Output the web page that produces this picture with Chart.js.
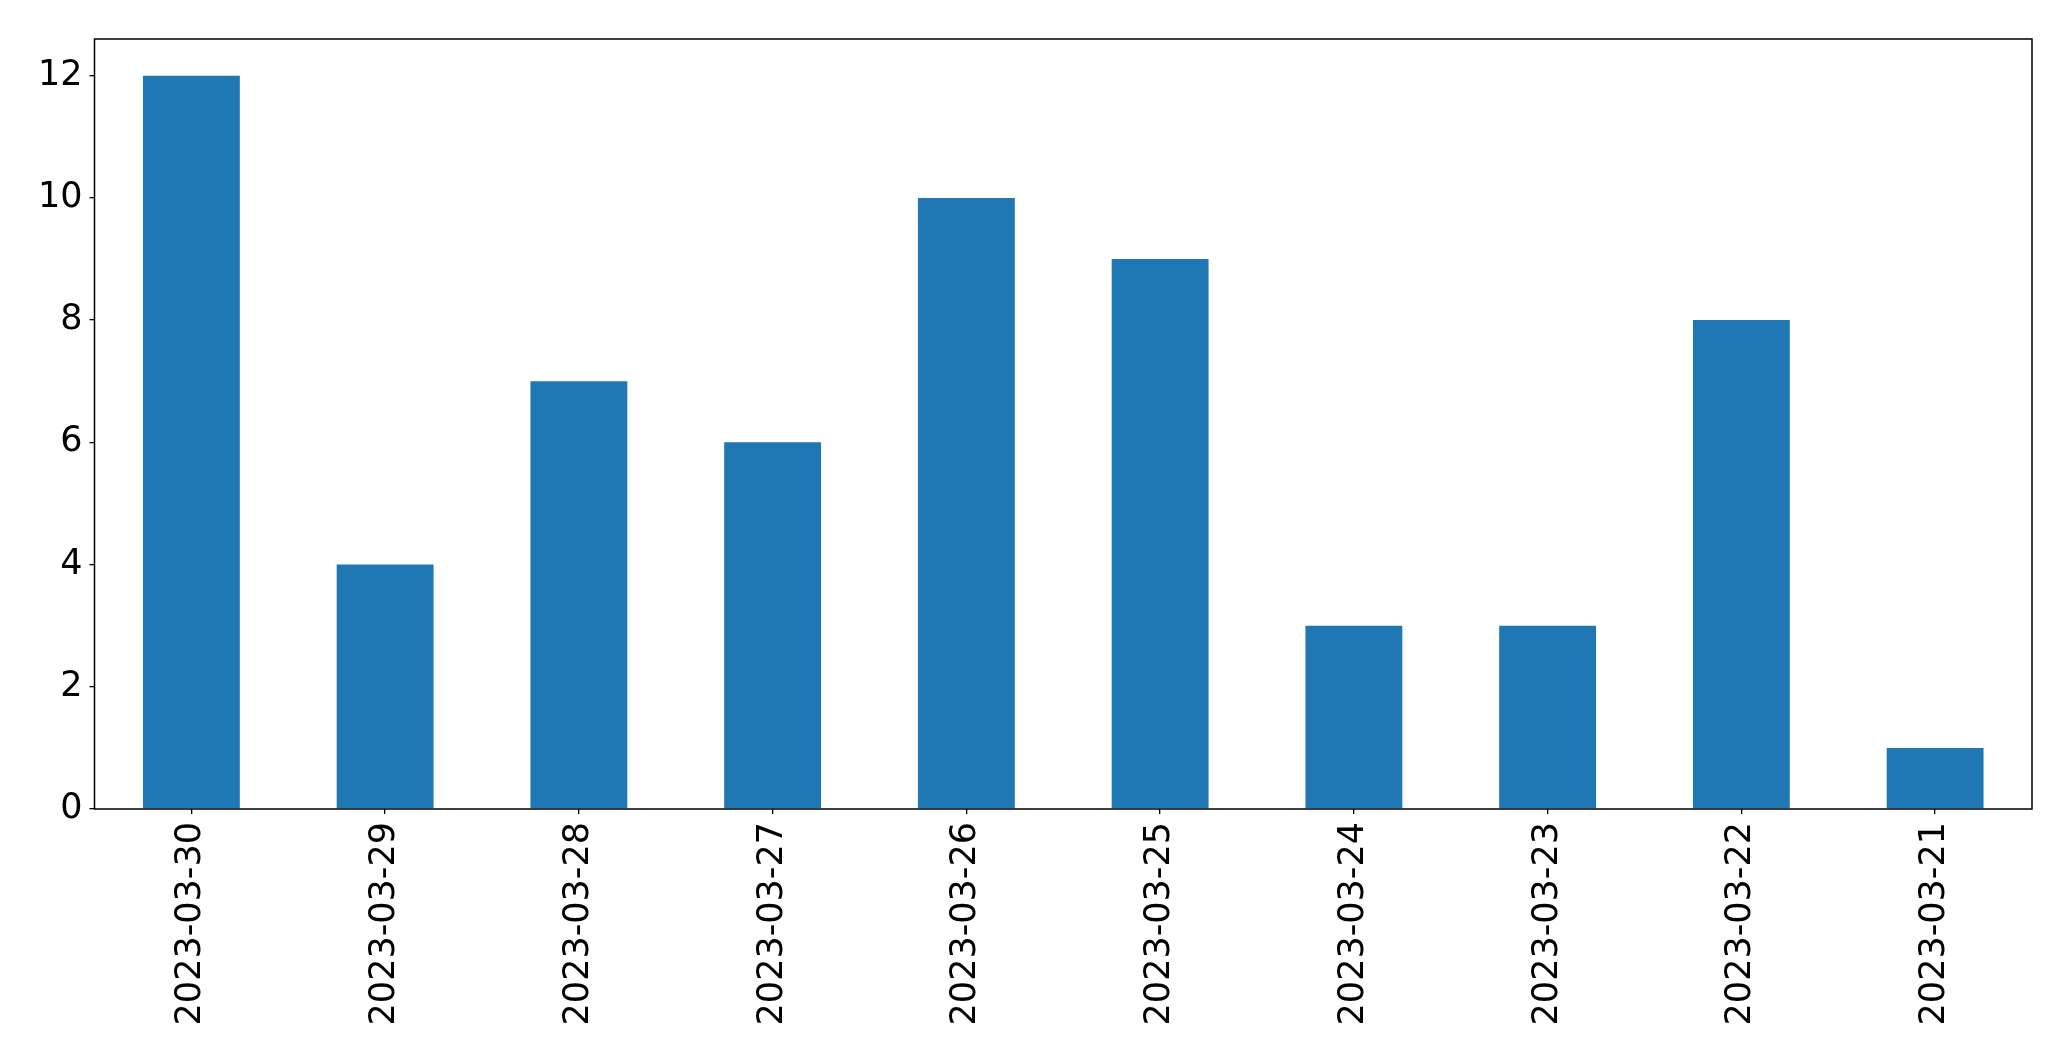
<!DOCTYPE html>
<html>
<head>
<meta charset="utf-8">
<script src="https://cdn.jsdelivr.net/npm/chart.js@4/dist/chart.umd.min.js"></script>
<style>
html,body{margin:0;padding:0;background:#fff;}
canvas{display:block;}
</style>
</head>
<body>
<canvas id="c" width="2071" height="1061"></canvas>
<script>
const categories = ["2023-03-30","2023-03-29","2023-03-28","2023-03-27","2023-03-26","2023-03-25","2023-03-24","2023-03-23","2023-03-22","2023-03-21"];
const counts = [12, 4, 7, 6, 10, 9, 3, 3, 8, 1];
const yMax = 12.6;
const yStep = 2;

const frame = {
  id: 'frame',
  afterDraw(chart) {
    const a = chart.chartArea, ctx = chart.ctx;
    ctx.save();
    ctx.strokeStyle = '#000';
    ctx.lineWidth = 1.5;
    ctx.strokeRect(a.left, a.top, a.right - a.left, a.bottom - a.top);
    ctx.restore();
  }
};

new Chart(document.getElementById('c'), {
  type: 'bar',
  data: {
    labels: categories,
    datasets: [{ data: counts, backgroundColor: '#1f77b4', borderWidth: 0,
      categoryPercentage: 1.0, barPercentage: 0.5 }]
  },
  options: {
    responsive: false,
    animation: false,
    devicePixelRatio: 1,
    layout: { padding: { left: 0, top: 39, right: 39, bottom: 0 } },
    plugins: { legend: { display: false }, tooltip: { enabled: false } },
    scales: {
      x: {
        offset: true,
        grid: { display: true, drawOnChartArea: false, drawTicks: true, tickLength: 5, tickColor: '#000', lineWidth: 1.3, offset: false },
        border: { display: false },
        ticks: { color: '#000', font: { family: 'DejaVu Sans', size: 35 }, minRotation: 90, maxRotation: 90, padding: 8, autoSkip: false },
        afterFit(s) { s.height = 252; }
      },
      y: {
        min: 0, max: yMax,
        grid: { display: true, drawOnChartArea: false, drawTicks: true, tickLength: 5, tickColor: '#000', lineWidth: 1.3 },
        border: { display: false },
        ticks: { stepSize: yStep, includeBounds: false, color: '#000', font: { family: 'DejaVu Sans', size: 35 }, padding: 7 },
        afterFit(s) { s.width = 94.5; }
      }
    }
  },
  plugins: [frame]
});
</script>
</body>
</html>
